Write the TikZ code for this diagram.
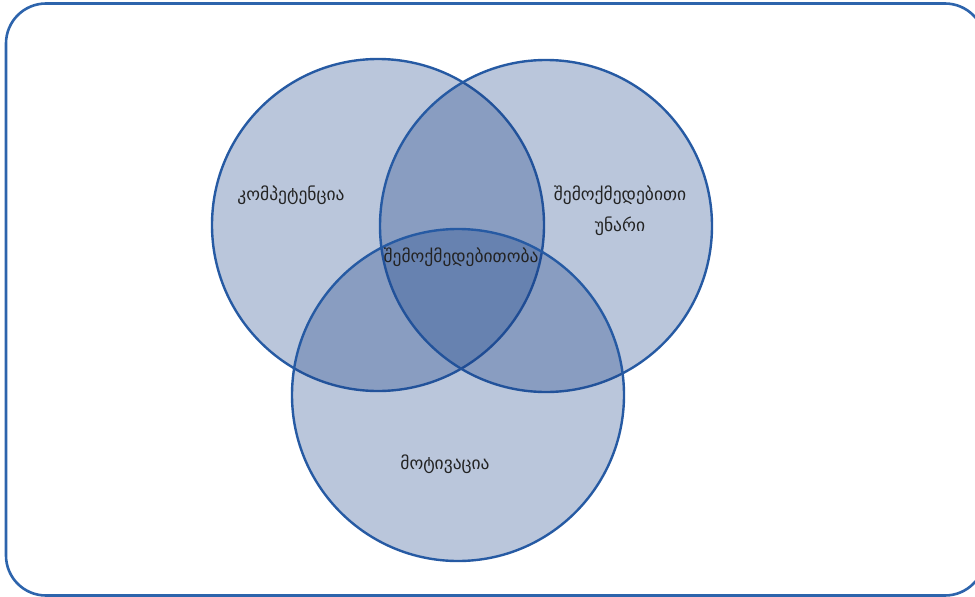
\documentclass[tikz,border=0pt]{standalone}
\usepackage{fontspec}
\newfontfamily\geo{DejaVu Sans}
\definecolor{vfill}{RGB}{25,65,135}
\definecolor{vline}{RGB}{38,90,163}
\definecolor{frameblue}{RGB}{45,100,172}
\definecolor{txt}{RGB}{35,35,35}
\tikzset{
  venn/.style={circle, minimum size=332pt, inner sep=0pt, fill=vfill, fill opacity=0.3, draw=vline, draw opacity=1, line width=2.4pt},
  lbl/.style={font=\geo\fontsize{17.5}{20}\selectfont, text=txt, align=center, inner sep=0pt}
}
\begin{document}
\begin{tikzpicture}[x=1pt,y=-1pt]
\useasboundingbox (0,0) rectangle (975,597);
\draw[frameblue, line width=2.6pt, rounded corners=40pt] (6,3.5) rectangle (985,595.5);
\node[venn] (c1) at (378,225) {};
\node[venn] (c2) at (546,226) {};
\node[venn] (c3) at (458,395) {};
\node[lbl] (t1) at (291,195) {კომპეტენცია};
\node[lbl] (t2) at (620,211) {შემოქმედებითი\\[11pt]უნარი};
\node[lbl] (t3) at (461,257) {შემოქმედებითობა};
\node[lbl] (t4) at (445,464) {მოტივაცია};
\end{tikzpicture}
\end{document}
